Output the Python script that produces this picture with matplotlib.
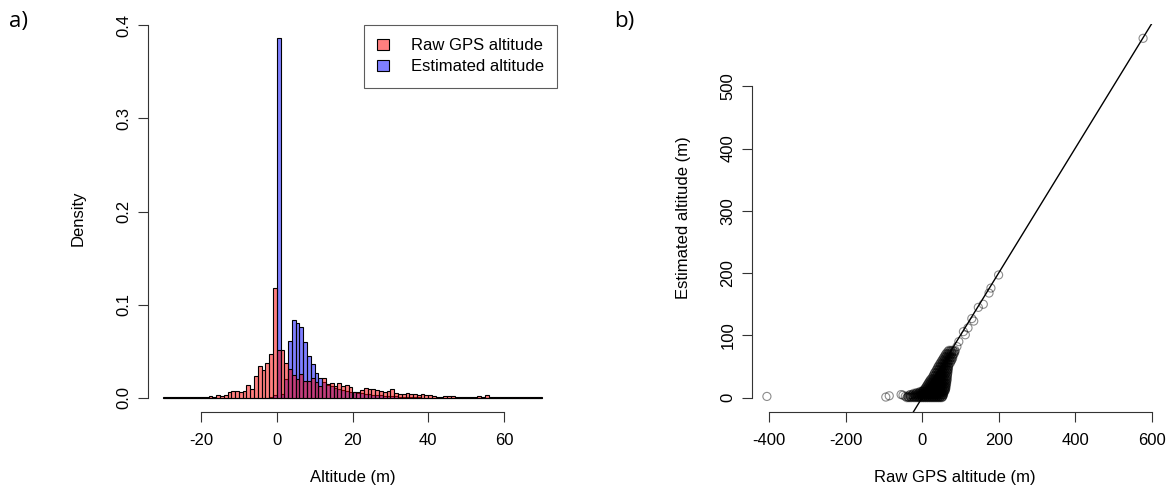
import matplotlib
matplotlib.use("Agg")
import matplotlib.pyplot as plt
import numpy as np

plt.rcParams['font.family'] = ['Liberation Sans', 'DejaVu Sans']
plt.rcParams['axes.unicode_minus'] = False

# ---- panel a: histograms (1 m bins, left edges -30 .. 69) ----
bin_left = list(range(-30, 70))
raw_density = [
    0.0005, 0.0005, 0.0005, 0.001, 0.0005, 0.0005, 0.001, 0.0005, 0.001, 0.0005,   # -30..-21
    0.001, 0.001, 0.002, 0.001, 0.003, 0.002, 0.003, 0.006, 0.007, 0.007,            # -20..-11
    0.006, 0.007, 0.014, 0.009, 0.023, 0.034, 0.030, 0.037, 0.047, 0.118,            # -10..-1
    0.051, 0.051, 0.037, 0.031, 0.024, 0.020, 0.025, 0.018, 0.018, 0.021,            # 0..9
    0.017, 0.012, 0.021, 0.015, 0.016, 0.013, 0.016, 0.012, 0.014, 0.011,            # 10..19
    0.006, 0.006, 0.008, 0.010, 0.009, 0.009, 0.008, 0.007, 0.006, 0.007,            # 20..29
    0.009, 0.005, 0.004, 0.004, 0.005, 0.004, 0.004, 0.003, 0.004, 0.003,            # 30..39
    0.003, 0.002, 0.001, 0.001, 0.002, 0.002, 0.002, 0.001, 0.001, 0.001,            # 40..49
    0.001, 0.001, 0.001, 0.002, 0.001, 0.003, 0.001, 0.0005, 0.0005, 0.0005,         # 50..59
    0.0005, 0.0005, 0.0005, 0.0005, 0.0005, 0.0005, 0.0005, 0.0005, 0.0005, 0.0005,  # 60..69
]
est_density = [
    0, 0, 0, 0, 0, 0, 0, 0, 0, 0,                                                    # -30..-21
    0, 0, 0, 0, 0, 0, 0, 0, 0, 0,                                                    # -20..-11
    0, 0, 0, 0, 0, 0, 0, 0, 0.001, 0.003,                                            # -10..-1
    0.386, 0.004, 0.020, 0.061, 0.083, 0.080, 0.076, 0.060, 0.045, 0.036,            # 0..9
    0.027, 0.021, 0.017, 0.014, 0.012, 0.010, 0.009, 0.008, 0.007, 0.006,            # 10..19
    0.006, 0.005, 0.005, 0.004, 0.004, 0.003, 0.003, 0.003, 0.002, 0.002,            # 20..29
    0.002, 0.002, 0.001, 0.001, 0.0005, 0.0005, 0.0005, 0.0005, 0, 0,                # 30..39
    0, 0, 0, 0, 0, 0, 0, 0, 0, 0,                                                    # 40..49
    0, 0, 0, 0, 0, 0, 0, 0, 0, 0,                                                    # 50..59
    0, 0, 0, 0, 0, 0, 0, 0, 0, 0,                                                    # 60..69
]

# ---- panel b: raw vs estimated altitude ----
# dense cluster, stored row by row: estimated altitude -> raw GPS altitudes
cluster_est = [0, 1, 2, 4, 5, 7, 8, 10, 11, 13, 15, 17, 19, 21, 23, 25, 27, 29, 31, 34,
               36, 39, 41, 44, 46, 49, 51, 54, 56, 59, 61, 64, 66, 69, 71, 74, 76]
cluster_raw = [
    [-40, -34, -28, -21, -15, -9, -4, 1, 6, 11, 16, 21, 26, 31, 36, 41, 46, 51],
    [-37, -31, -24, -18, -12, -7, -1, 3, 8, 13, 18, 23, 28, 33, 38, 43, 48, 53],
    [-44, -37, -30, -23, -17, -11, -6, -1, 4, 9, 14, 19, 24, 29, 34, 39, 44, 49, 54],
    [-34, -27, -20, -14, -8, -3, 1, 6, 11, 16, 21, 26, 31, 36, 41, 46, 51, 55],
    [-31, -25, -19, -13, -7, -2, 3, 8, 13, 18, 23, 28, 33, 38, 43, 48, 53, 56],
    [-22, -16, -10, -5, 0, 5, 10, 15, 20, 25, 30, 35, 40, 45, 50, 55],
    [-14, -8, -3, 2, 7, 12, 17, 22, 27, 32, 37, 42, 47, 52, 57],
    [-5, 0, 4, 9, 14, 19, 24, 29, 34, 39, 44, 49, 54, 58],
    [2, 6, 11, 16, 21, 26, 31, 36, 41, 46, 51, 56, 60],
    [5, 9, 14, 19, 24, 29, 34, 39, 44, 49, 54, 59, 61],
    [8, 13, 18, 23, 28, 33, 38, 43, 48, 53, 58, 62],
    [10, 15, 20, 25, 30, 35, 40, 45, 50, 55, 60, 62],
    [12, 17, 22, 27, 32, 37, 42, 47, 52, 57, 62],
    [14, 19, 24, 29, 34, 39, 44, 49, 54, 59, 63],
    [16, 21, 26, 31, 36, 41, 46, 51, 56, 61, 64],
    [18, 23, 28, 33, 38, 43, 48, 53, 58, 63],
    [20, 25, 30, 35, 40, 45, 50, 55, 60, 65],
    [22, 27, 32, 37, 42, 47, 52, 57, 62, 65],
    [25, 30, 35, 40, 45, 50, 55, 60, 65],
    [28, 33, 38, 43, 48, 53, 58, 63, 66],
    [30, 35, 40, 45, 50, 55, 60, 66],
    [32, 37, 42, 47, 52, 57, 62, 67],
    [34, 39, 44, 49, 54, 59, 64, 67],
    [37, 42, 47, 52, 57, 62, 66, 68],
    [39, 44, 49, 54, 59, 64, 68],
    [41, 46, 51, 56, 61, 66, 69],
    [43, 48, 53, 58, 63, 69],
    [46, 51, 56, 61, 66, 71],
    [48, 53, 58, 63, 68, 74],
    [51, 56, 61, 66, 71, 76],
    [53, 58, 63, 68, 73, 78],
    [56, 61, 66, 71, 76, 80],
    [58, 63, 68, 73, 79],
    [61, 66, 71, 76, 82],
    [63, 68, 73, 78, 84],
    [67, 72, 77, 83, 86],
    [70, 75, 80, 86],
]
# scattered points outside the cluster
other_raw = [-406, -95, -86, -55, -50, 91, 96, 108, 113, 120, 130, 135, 147, 160, 175, 180, 200, 578]
other_est = [2, 1, 3, 5, 4, 82, 90, 106, 101, 112, 127, 123, 145, 150, 168, 176, 197, 577]

raw_alt = [x for xs in cluster_raw for x in xs] + other_raw
est_alt = [y for e, xs in zip(cluster_est, cluster_raw) for y in [e] * len(xs)] + other_est

W, H = 1176, 499
fig = plt.figure(figsize=(W / 100, H / 100), dpi=100)


def r_axes(ax, xb, yb):
    # R base-graphics look: axis lines only between first and last tick
    for s in ("top", "right"):
        ax.spines[s].set_visible(False)
    ax.spines["bottom"].set_bounds(*xb)
    ax.spines["left"].set_bounds(*yb)
    for s in ("bottom", "left"):
        ax.spines[s].set_color("#333333")
        ax.spines[s].set_linewidth(0.8)
    ax.tick_params(direction="out", length=7, width=0.8, color="#333333", labelsize=12)
    ax.tick_params(axis="x", pad=8)
    ax.tick_params(axis="y", pad=5)
    for lbl in ax.get_yticklabels():
        lbl.set_rotation(90)
        lbl.set_va("center")


# panel a
ax1 = fig.add_axes([148 / W, 87 / H, 409 / W, 388 / H])
ax1.bar(bin_left, est_density, width=1, align="edge", color=(0, 0, 1, 0.5),
        edgecolor="black", linewidth=0.8, label="Estimated altitude")
ax1.bar(bin_left, raw_density, width=1, align="edge", color=(1, 0, 0, 0.5),
        edgecolor="black", linewidth=0.8, label="Raw GPS altitude")
ax1.set_xlim(-34, 74)
ax1.set_ylim(-0.0154, 0.4015)
ax1.set_xticks([-20, 0, 20, 40, 60])
ax1.set_yticks([0.0, 0.1, 0.2, 0.3, 0.4])
ax1.set_yticklabels(["0.0", "0.1", "0.2", "0.3", "0.4"])
r_axes(ax1, (-20, 60), (0, 0.4))
ax1.set_xlabel("Altitude (m)", fontsize=12, labelpad=16)
ax1.set_ylabel("Density", fontsize=12, labelpad=22)
h, l = ax1.get_legend_handles_labels()
leg = ax1.legend(h[::-1], l[::-1], loc="upper right", bbox_to_anchor=(1, 0.997), borderaxespad=0,
                 fontsize=12, frameon=True, fancybox=False, edgecolor="#333333",
                 handlelength=0.7, handleheight=0.7, handletextpad=1.3,
                 borderpad=0.8, labelspacing=0.35)
leg.get_frame().set_linewidth(0.8)

# panel b
ax2 = fig.add_axes([752 / W, 87 / H, 406 / W, 388 / H])
ax2.scatter(raw_alt, est_alt, s=34, facecolors="none", edgecolors=(0, 0, 0, 0.45), linewidths=0.8)
ax2.axline((0, 0), slope=1, color="black", linewidth=1)
ax2.set_xlim(-445, 617)
ax2.set_ylim(-23, 600)
ax2.set_xticks([-400, -200, 0, 200, 400, 600])
ax2.set_yticks([0, 100, 200, 300, 400, 500])
r_axes(ax2, (-400, 600), (0, 500))
ax2.set_xlabel("Raw GPS altitude (m)", fontsize=12, labelpad=16)
ax2.set_ylabel("Estimated altitude (m)", fontsize=12, labelpad=21)

fig.text(19 / W, 1 - 22 / H, "a)", fontsize=16, family=["Open Sans", "DejaVu Sans"], ha="center", va="center")
fig.text(624 / W, 1 - 22 / H, "b)", fontsize=16, family=["Open Sans", "DejaVu Sans"], ha="center", va="center")

fig.savefig("out.png", dpi=100)
